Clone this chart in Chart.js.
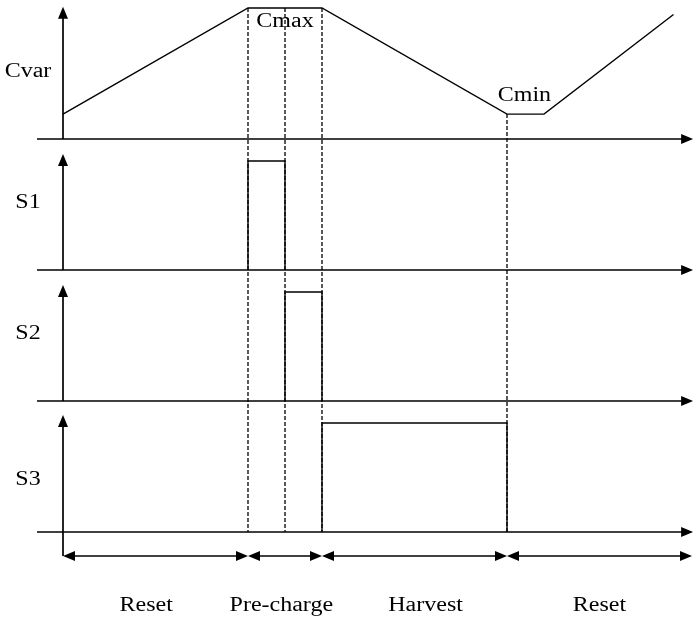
<!DOCTYPE html>
<html>
<head>
<meta charset="utf-8">
<script src="https://cdn.jsdelivr.net/npm/chart.js@4.4.1/dist/chart.umd.min.js"></script>
<style>
  html, body { margin: 0; padding: 0; background: #fff; }
  #wrap { width: 696px; height: 618px; }
</style>
</head>
<body>
<div id="wrap"><canvas id="timing" width="696" height="618"></canvas></div>
<script>
// time is in slots, one slot is the width of one pre-charge sub phase
const rowNames = ["Cvar", "S1", "S2", "S3"];
const rowLabelY = [0.47, 0.47, 0.47, 0.36];   // label height inside each row
const axisTop = [1.01, 0.885, 0.885, 0.893];   // where each vertical arrow ends

const cvarTimes = [0, 5, 7, 12, 13, 16.5];
const cvarValues = [0.19, 1.0, 1.0, 0.19, 0.19, 0.95];

const s1Times = [5, 5, 6, 6];
const s1Values = [0, 1, 1, 0];
const s2Times = [6, 6, 7, 7];
const s2Values = [0, 1, 1, 0];
const s3Times = [7, 7, 12, 12];
const s3Values = [0, 1, 1, 0];

const guideTimes = [5, 6, 7, 12];
const guideFrom = [1.0, 1.0, 1.0, 0.19];   // Cvar level where each guide starts

const phaseNames = ["Reset", "Pre-charge", "Harvest", "Reset"];
const phaseEdges = [0, 5, 7, 12, 17];
const phaseLabelX = [2.25, 5.9, 9.8, 14.5];

const cvarNotes = ["Cmax", "Cmin"];
const cvarNoteX = [6.0, 12.47];
const cvarNoteY = [0.855, 0.29];

// layout of the rows on the shared y scale
const rowBase = [3, 2, 1, 0];
const pulseHeight = 0.832;
const axisStart = -0.703;
const axisEnd = 17.03;
const arrowRowY = -0.183;
const phaseLabelY = -0.603;
const labelX = -0.946;

const FONT = '20px "Liberation Serif", "Times New Roman", serif';
const STRETCH = 1.2;

function toPoints(times, values, base, scale) {
  return times.map((t, i) => ({ x: t, y: base + values[i] * scale }));
}

function wave(points) {
  return {
    data: points,
    borderColor: "#000",
    borderWidth: 1.4,
    pointRadius: 0,
    fill: false,
    tension: 0
  };
}

function arrowHead(ctx, x, y, dir) {
  // dir: "up", "right", "left"
  const len = 12, half = 5;
  ctx.beginPath();
  if (dir === "up") {
    ctx.moveTo(x, y);
    ctx.lineTo(x - half, y + len);
    ctx.lineTo(x + half, y + len);
  } else if (dir === "right") {
    ctx.moveTo(x, y);
    ctx.lineTo(x - len, y - half);
    ctx.lineTo(x - len, y + half);
  } else {
    ctx.moveTo(x, y);
    ctx.lineTo(x + len, y - half);
    ctx.lineTo(x + len, y + half);
  }
  ctx.closePath();
  ctx.fill();
}

function text(ctx, str, x, y) {
  ctx.save();
  ctx.translate(x, y);
  ctx.scale(STRETCH, 1);
  ctx.fillText(str, 0, 0);
  ctx.restore();
}

const framePlugin = {
  id: "frame",
  beforeDatasetsDraw(chart) {
    const ctx = chart.ctx;
    const xs = chart.scales.x, ys = chart.scales.y;
    const px = v => xs.getPixelForValue(v);
    const py = v => ys.getPixelForValue(v);
    ctx.save();
    ctx.strokeStyle = "#000";
    ctx.fillStyle = "#000";

    // dashed guides from the Cvar curve down to the last axis
    ctx.lineWidth = 1.3;
    ctx.setLineDash([4, 2]);
    guideTimes.forEach((t, i) => {
      ctx.beginPath();
      ctx.moveTo(px(t), py(rowBase[0] + guideFrom[i]));
      ctx.lineTo(px(t), py(rowBase[3]));
      ctx.stroke();
    });
    ctx.setLineDash([]);

    // time axes and value axes
    ctx.lineWidth = 1.7;
    rowBase.forEach((b, i) => {
      const y = py(b);
      ctx.beginPath();
      ctx.moveTo(px(axisStart), y);
      ctx.lineTo(px(axisEnd) - 8, y);
      ctx.stroke();
      arrowHead(ctx, px(axisEnd), y, "right");

      const x0 = px(0);
      const bottom = i === rowBase.length - 1 ? py(arrowRowY) : y;
      ctx.beginPath();
      ctx.moveTo(x0, bottom);
      ctx.lineTo(x0, py(b + axisTop[i]) + 8);
      ctx.stroke();
      arrowHead(ctx, x0, py(b + axisTop[i]), "up");
    });

    // phase arrows
    ctx.lineWidth = 1.4;
    const ya = py(arrowRowY);
    for (let i = 0; i < phaseNames.length; i++) {
      const a = px(phaseEdges[i]), b = px(phaseEdges[i + 1]);
      ctx.beginPath();
      ctx.moveTo(a + 6, ya);
      ctx.lineTo(b - 6, ya);
      ctx.stroke();
      arrowHead(ctx, a, ya, "left");
      arrowHead(ctx, b, ya, "right");
    }
    ctx.restore();
  },
  afterDatasetsDraw(chart) {
    const ctx = chart.ctx;
    const xs = chart.scales.x, ys = chart.scales.y;
    const px = v => xs.getPixelForValue(v);
    const py = v => ys.getPixelForValue(v);
    ctx.save();
    ctx.fillStyle = "#000";
    ctx.font = FONT;
    ctx.textAlign = "center";
    ctx.textBaseline = "alphabetic";
    rowNames.forEach((n, i) => text(ctx, n, px(labelX), py(rowBase[i] + rowLabelY[i])));
    cvarNotes.forEach((n, i) => text(ctx, n, px(cvarNoteX[i]), py(rowBase[0] + cvarNoteY[i])));
    phaseNames.forEach((n, i) => text(ctx, n, px(phaseLabelX[i]), py(phaseLabelY)));
    ctx.restore();
  }
};

new Chart(document.getElementById("timing").getContext("2d"), {
  type: "line",
  data: {
    datasets: [
      wave(toPoints(cvarTimes, cvarValues, rowBase[0], 1)),
      wave(toPoints(s1Times, s1Values, rowBase[1], pulseHeight)),
      wave(toPoints(s2Times, s2Values, rowBase[2], pulseHeight)),
      wave(toPoints(s3Times, s3Values, rowBase[3], pulseHeight))
    ]
  },
  options: {
    responsive: false,
    animation: false,
    devicePixelRatio: 1,
    layout: { padding: 0 },
    scales: {
      x: { type: "linear", min: -63 / 37, max: 633 / 37, display: false },
      y: { type: "linear", min: -86 / 131, max: 532 / 131, display: false }
    },
    plugins: {
      legend: { display: false },
      tooltip: { enabled: false }
    }
  },
  plugins: [framePlugin]
});
</script>
</body>
</html>
